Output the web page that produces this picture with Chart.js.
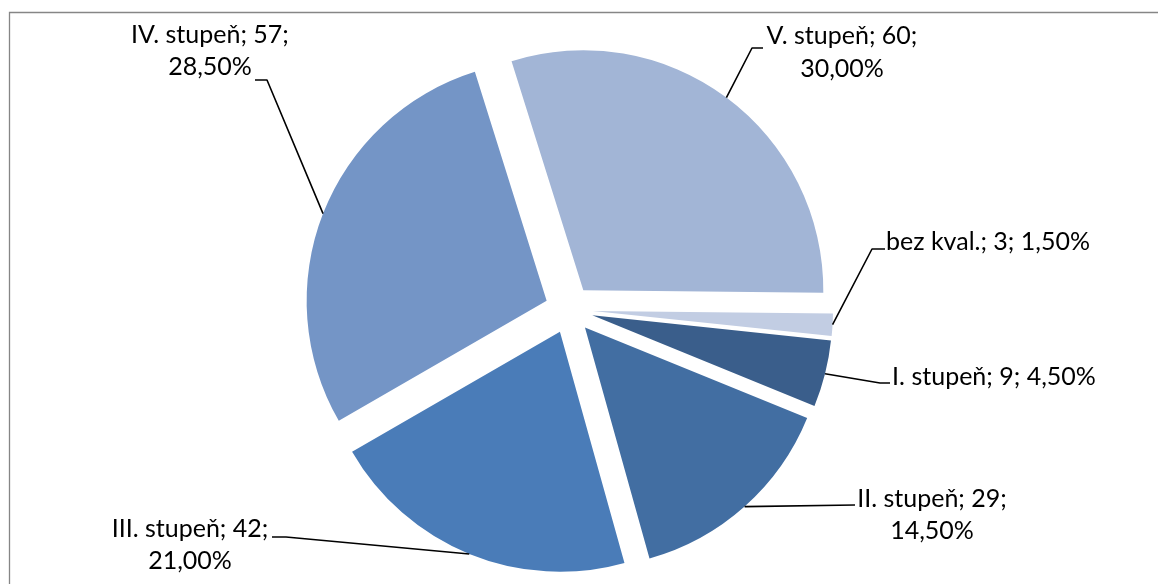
<!DOCTYPE html>
<html>
<head>
<meta charset="utf-8">
<script src="https://cdn.jsdelivr.net/npm/chart.js@4.4.1/dist/chart.umd.min.js"></script>
<style>
html, body { margin: 0; padding: 0; background: #ffffff; }
canvas { display: block; }
</style>
</head>
<body>
<canvas id="c" width="1158" height="584"></canvas>
<script>
// ---- data ----
const categories = ['bez kval.', 'I. stupeň', 'II. stupeň', 'III. stupeň', 'IV. stupeň', 'V. stupeň'];
const counts = [3, 9, 29, 42, 57, 60];
const sliceColors = ['#C2CDE3', '#3A5E8B', '#426EA2', '#4A7CB8', '#7495C6', '#A2B5D6'];

const total = counts.reduce((a, b) => a + b, 0);
const percentLabels = counts.map(v => (v / total * 100).toFixed(2).replace('.', ',') + '%');

// ---- label layout (text positions + leader elbows) ----
const labelLayout = [
  { x: 988, base: [250], wrap: false, path: [[885, 249], [872, 249]] },
  { x: 994, base: [385], wrap: false, path: [[890, 383], [880, 383]] },
  { x: 932, base: [507, 539], wrap: true, path: [[855, 505]] },
  { x: 190, base: [537, 569], wrap: true, path: [[272, 537], [286, 537]] },
  { x: 210, base: [43, 75], wrap: true, path: [[255, 80], [267, 80]] },
  { x: 842, base: [44, 77], wrap: true, path: [[763, 48], [752, 48]] }
];

const frame = {
  id: 'frame',
  beforeDraw(chart) {
    const ctx = chart.ctx;
    ctx.save();
    ctx.strokeStyle = '#868686';
    ctx.lineWidth = 1.3;
    ctx.beginPath();
    ctx.moveTo(9.5, 584);
    ctx.lineTo(9.5, 12.5);
    ctx.lineTo(1158, 12.5);
    ctx.stroke();
    ctx.restore();
  }
};

const explode = {
  id: 'explode',
  afterDatasetUpdate(chart, args, opts) {
    const d = opts.distance || 0;
    args.meta.data.forEach(arc => {
      const mid = (arc.startAngle + arc.endAngle) / 2;
      arc.x += Math.cos(mid) * d;
      arc.y += Math.sin(mid) * d;
    });
  }
};

const pieLabels = {
  id: 'pieLabels',
  afterDatasetsDraw(chart) {
    const ctx = chart.ctx;
    const meta = chart.getDatasetMeta(0);
    ctx.save();
    meta.data.forEach((arc, i) => {
      const L = labelLayout[i];
      const mid = (arc.startAngle + arc.endAngle) / 2;
      const ex = arc.x + Math.cos(mid) * arc.outerRadius;
      const ey = arc.y + Math.sin(mid) * arc.outerRadius;
      ctx.strokeStyle = '#000000';
      ctx.lineWidth = 1.6;
      ctx.lineJoin = 'round';
      ctx.beginPath();
      ctx.moveTo(L.path[0][0], L.path[0][1]);
      for (let k = 1; k < L.path.length; k++) ctx.lineTo(L.path[k][0], L.path[k][1]);
      ctx.lineTo(ex, ey);
      ctx.stroke();

      const lines = L.wrap
        ? [categories[i] + '; ' + counts[i] + ';', percentLabels[i]]
        : [categories[i] + '; ' + counts[i] + '; ' + percentLabels[i]];
      ctx.fillStyle = '#000000';
      ctx.font = '25px Lato, "Liberation Sans", sans-serif';
      ctx.textAlign = 'center';
      ctx.textBaseline = 'alphabetic';
      lines.forEach((t, k) => ctx.fillText(t, L.x, L.base[k]));
    });
    ctx.restore();
  }
};

new Chart(document.getElementById('c'), {
  type: 'pie',
  data: {
    labels: categories,
    datasets: [{
      data: counts,
      backgroundColor: sliceColors,
      borderWidth: 0,
      radius: 240
    }]
  },
  options: {
    responsive: false,
    animation: false,
    events: [],
    rotation: 90.6,
    layout: { padding: { left: 0, right: 20, top: 35, bottom: 0 } },
    plugins: {
      legend: { display: false },
      tooltip: { enabled: false },
      explode: { distance: 24 }
    }
  },
  plugins: [frame, explode, pieLabels]
});
</script>
</body>
</html>
